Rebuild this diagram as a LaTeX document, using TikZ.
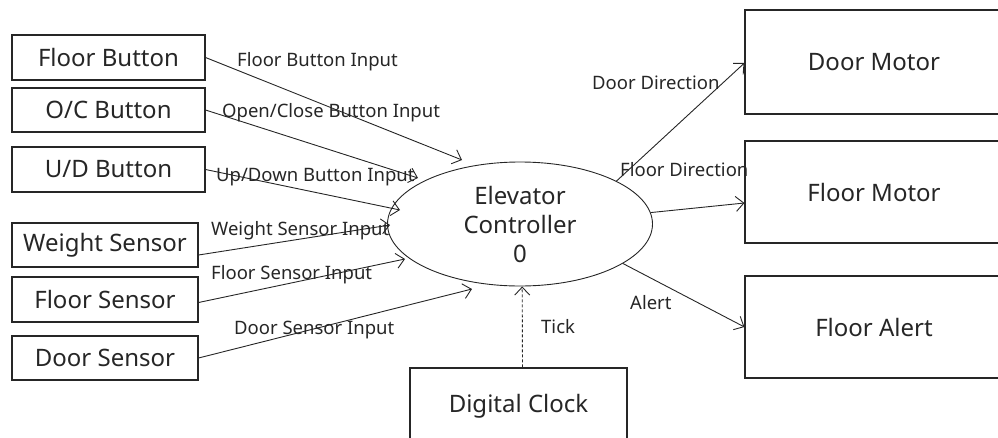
\documentclass[tikz,border=0pt]{standalone}
\usepackage{fontspec}
\setmainfont{Noto Sans}
\usetikzlibrary{arrows.meta,shapes.geometric}
\begin{document}
\begin{tikzpicture}[x=1pt,y=-1pt,
  ent/.style={draw=black!85,line width=1.1pt,rectangle,inner sep=0pt,
    font=\fontsize{24}{28}\selectfont,text=black!85},
  flow/.style={draw=black!85,line width=0.9pt,
    -{Straight Barb[length=8pt,width=15pt,line width=0.9pt]}},
  lbl/.style={font=\fontsize{18.5}{21}\selectfont,text=black!85,inner sep=0pt,anchor=west}]
\useasboundingbox (0,0) rectangle (998,437);

% external sources on the left
\node[ent,minimum width=193pt,minimum height=45pt] (fb) at (108.5,57.5) {Floor Button};
\node[ent,minimum width=193pt,minimum height=44pt] (oc) at (108.5,110) {O/C Button};
\node[ent,minimum width=193pt,minimum height=45pt] (ud) at (108.5,169.5) {U/D Button};
\node[ent,minimum width=186pt,minimum height=44pt] (ws) at (105,245) {Weight Sensor};
\node[ent,minimum width=186pt,minimum height=45pt] (fs) at (105,299.5) {Floor Sensor};
\node[ent,minimum width=186pt,minimum height=44pt] (ds) at (105,358) {Door Sensor};

% process
\node[draw=black!85,line width=0.9pt,ellipse,minimum width=265pt,minimum height=124pt,
  inner sep=0pt,align=center,font=\fontsize{24}{29}\selectfont,text=black!85]
  (ctrl) at (520,224) {Elevator\\Controller\\0};

% clock below the process
\node[ent,minimum width=217pt,minimum height=76pt] (clk) at (518.5,406) {Digital Clock};

% sinks on the right
\node[ent,minimum width=258pt,minimum height=104pt] (dm) at (874,62) {Door Motor};
\node[ent,minimum width=258pt,minimum height=102pt] (fm) at (874,192) {Floor Motor};
\node[ent,minimum width=258pt,minimum height=102pt] (fa) at (874,327) {Floor Alert};

% arrow end points near the process
\coordinate (e1) at (462,160);
\coordinate (e2) at (418,178);
\coordinate (e3) at (400,210);
\coordinate (e4) at (390,225);
\coordinate (e5) at (405,259);
\coordinate (e6) at (472,289);

% inputs
\draw[flow] (fb.east) -- (e1);
\draw[flow] (oc.east) -- (e2);
\draw[flow] (ud.east) -- (e3);
\draw[flow] ([yshift=-10pt]ws.east) -- (e4);
\draw[flow] ([yshift=-3pt]fs.east) -- (e5);
\draw[flow] (ds.east) -- (e6);
\draw[flow,dashed,dash pattern=on 3pt off 2pt] ([xshift=4pt]clk.north) -- (ctrl.-88);

% outputs
\draw[flow] (ctrl.24) -- ([yshift=-1pt]dm.west);
\draw[flow] (ctrl.5) -- ([yshift=-11pt]fm.west);
\draw[flow] (ctrl.-21) -- (fa.west);

% flow labels
\node[lbl] (l1) at (237,62) {Floor Button Input};
\node[lbl] (l2) at (222,113) {Open/Close Button Input};
\node[lbl] (l3) at (216,177) {Up/Down Button Input};
\node[lbl] (l4) at (211,231) {Weight Sensor Input};
\node[lbl] (l5) at (211,275) {Floor Sensor Input};
\node[lbl] (l6) at (234,330) {Door Sensor Input};
\node[lbl] (l7) at (592,83) {Door Direction};
\node[lbl] (l8) at (620,170) {Floor Direction};
\node[lbl] (l9) at (630,303) {Alert};
\node[lbl] (l10) at (541,327) {Tick};
\end{tikzpicture}
\end{document}
